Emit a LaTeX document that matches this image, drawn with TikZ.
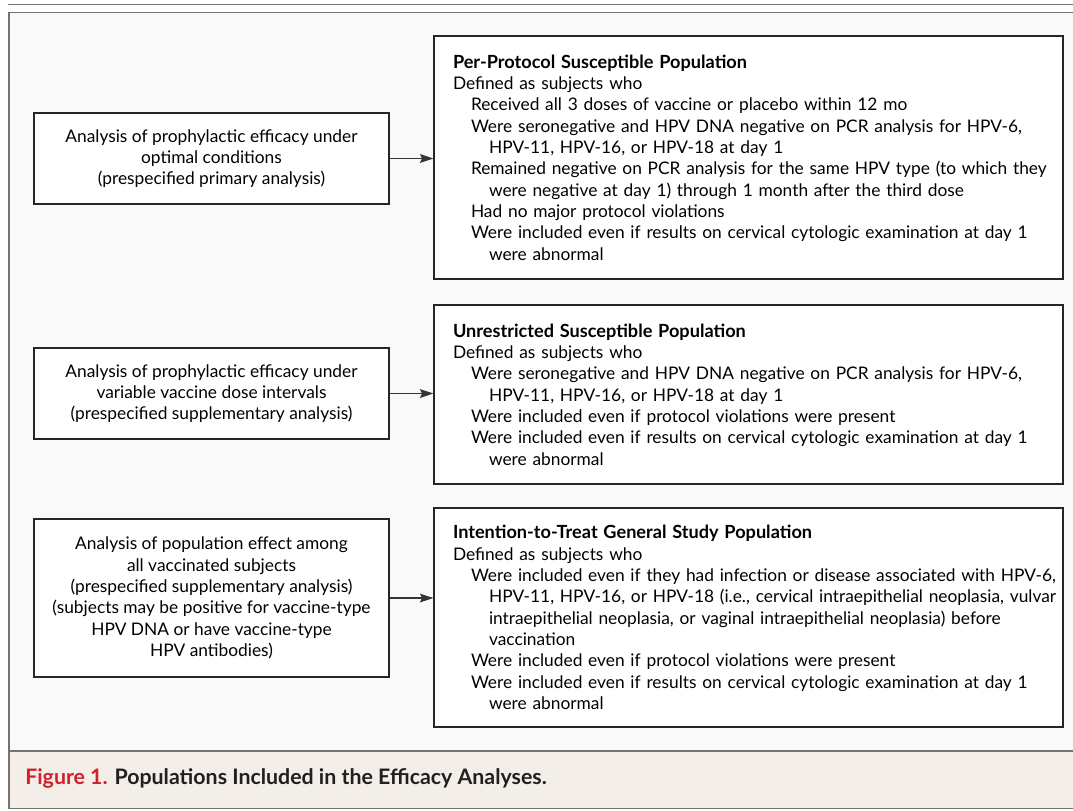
\documentclass[tikz,border=0pt]{standalone}
\usepackage{fontspec}
\setmainfont{Lato}
\usetikzlibrary{arrows.meta}
\definecolor{framegray}{HTML}{737373}
\definecolor{panel}{HTML}{F9F9F9}
\definecolor{capbg}{HTML}{F3EFE8}
\definecolor{figred}{HTML}{D2202E}
\definecolor{capblack}{HTML}{231F20}
\newcommand\itemln[1]{\mbox{\hspace*{13.5pt}#1}}
\newcommand\contln[1]{\mbox{\hspace*{27pt}#1}}
\newcommand\plainln[1]{\mbox{#1}}
\newcommand\boxtitle[1]{\mbox{\fontsize{13.6}{16}\selectfont\bfseries #1}}
\begin{document}
\begin{tikzpicture}[x=0.75pt,y=-0.75pt,
  txt/.style={font=\fontsize{13}{16}\selectfont},
  lbox/.style={txt, draw=black!85, line width=1pt, fill=white, minimum width=266.25pt, align=center, inner sep=0pt},
  rbox/.style={txt, draw=black!85, line width=1pt, fill=white, minimum width=471.75pt, text width=443.25pt, inner xsep=14.25pt, inner ysep=0pt, align=left},
  conn/.style={-{Stealth[length=10pt,width=6.5pt,inset=1.5pt]}, line width=1.2pt, draw=black!80},
  frameline/.style={draw=framegray, line width=1.4pt}
]
\useasboundingbox (0,0) rectangle (1073,810);
% panels
\fill[panel] (9,12.5) rectangle (1080,751);
\fill[capbg] (9,751) rectangle (1080,808.5);
\draw[frameline] (8,4.5) -- (1080,4.5);
\draw[frameline] (1080,12.5) -- (9,12.5) -- (9,808.5) -- (1080,808.5);
\draw[frameline] (9,751) -- (1080,751);

% left boxes
\node[lbox, minimum height=68.25pt] (l1) at (211.5,158.5)
  {Analysis of prophylactic efficacy under\\ optimal conditions\\ (prespecified primary analysis)};
\node[lbox, minimum height=68.25pt] (l2) at (211.5,393.5)
  {Analysis of prophylactic efficacy under\\ variable vaccine dose intervals\\ (prespecified supplementary analysis)};
\node[lbox, minimum height=118.5pt] (l3) at (211.5,598)
  {Analysis of population effect among\\ all vaccinated subjects\\ (prespecified supplementary analysis)\\ (subjects may be positive for vaccine-type\\ HPV DNA or have vaccine-type\\ HPV antibodies)};

% right boxes
\node[rbox, minimum height=182.25pt] (r1) at (748.5,157.5)
  {\boxtitle{Per-Protocol Susceptible Population}\\
   \plainln{Defined as subjects who}\\
   \itemln{Received all 3 doses of vaccine or placebo within 12 mo}\\
   \itemln{Were seronegative and HPV DNA negative on PCR analysis for HPV-6,}\\
   \contln{HPV-11, HPV-16, or HPV-18 at day 1}\\
   \itemln{Remained negative on PCR analysis for the same HPV type (to which they}\\
   \contln{were negative at day 1) through 1 month after the third dose}\\
   \itemln{Had no major protocol violations}\\
   \itemln{Were included even if results on cervical cytologic examination at day 1}\\
   \contln{were abnormal}};
\node[rbox, minimum height=134.25pt] (r2) at (748.5,394.5)
  {\boxtitle{Unrestricted Susceptible Population}\\
   \plainln{Defined as subjects who}\\
   \itemln{Were seronegative and HPV DNA negative on PCR analysis for HPV-6,}\\
   \contln{HPV-11, HPV-16, or HPV-18 at day 1}\\
   \itemln{Were included even if protocol violations were present}\\
   \itemln{Were included even if results on cervical cytologic examination at day 1}\\
   \contln{were abnormal}};
\node[rbox, minimum height=164.25pt] (r3) at (748.5,617.5)
  {\boxtitle{Intention-to-Treat General Study Population}\\
   \plainln{Defined as subjects who}\\
   \itemln{Were included even if they had infection or disease associated with HPV-6,}\\
   \contln{HPV-11, HPV-16, or HPV-18 (i.e., cervical intraepithelial neoplasia, vulvar}\\
   \contln{intraepithelial neoplasia, or vaginal intraepithelial neoplasia) before}\\
   \contln{vaccination}\\
   \itemln{Were included even if protocol violations were present}\\
   \itemln{Were included even if results on cervical cytologic examination at day 1}\\
   \contln{were abnormal}};

% connectors
\draw[conn] (l1.east) -- (l1.east -| r1.west);
\draw[conn] (l2.east) -- (l2.east -| r2.west);
\draw[conn] (l3.east) -- (l3.east -| r3.west);

% caption
\node[anchor=west, inner sep=0pt, font=\fontsize{16}{18}\selectfont\bfseries, text=capblack] (cap) at (25,778)
  {\textcolor{figred}{Figure 1.} Populations Included in the Efficacy Analyses.};
\end{tikzpicture}
\end{document}
